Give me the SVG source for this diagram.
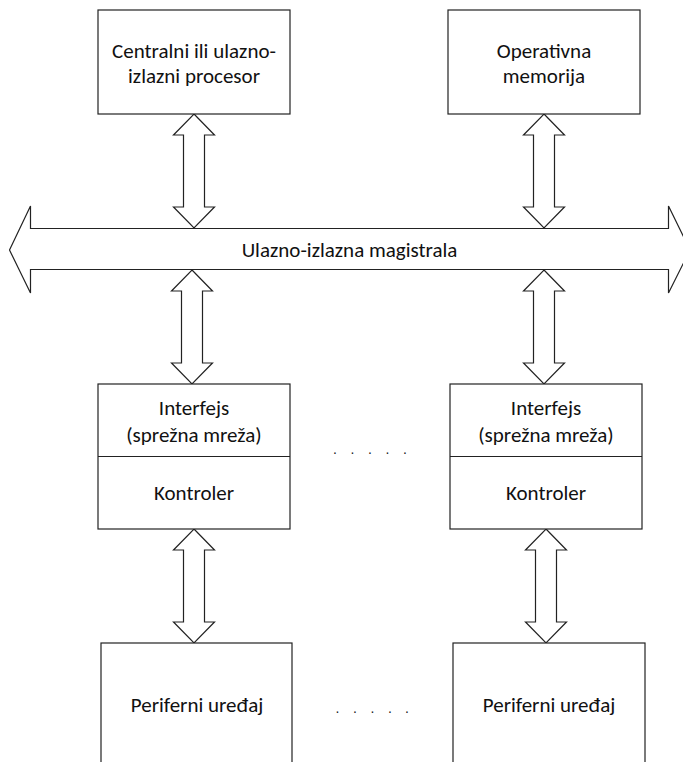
<svg xmlns="http://www.w3.org/2000/svg" width="683" height="762" viewBox="0 0 683 762">
<style>
.box{fill:#fff;stroke:#222;stroke-width:1.2}
.arr{fill:#fff;stroke:#222;stroke-width:1.2;stroke-linejoin:miter}
.t{font-family:Carlito,Lato,"Liberation Sans",sans-serif;font-size:21px;fill:#111;text-anchor:middle}
.dots{font-family:"Liberation Sans",sans-serif;font-size:14px;fill:#222;text-anchor:middle}
</style>
<defs>
<path id="dbl" d="M0,0 L20.5,21 L10.5,21 L10.5,93 L20.5,93 L0,114 L-20.5,93 L-10.5,93 L-10.5,21 L-20.5,21 Z"/>
</defs>
<rect width="683" height="762" fill="#fff"/>
<g id="connectors">
<use href="#dbl" class="arr" x="194" y="114"/>
<use href="#dbl" class="arr" x="544" y="114"/>
<use href="#dbl" class="arr" x="192" y="270"/>
<use href="#dbl" class="arr" x="544" y="270"/>
<use href="#dbl" class="arr" x="194" y="529"/>
<use href="#dbl" class="arr" x="546" y="529"/>
</g>
<g id="bus">
<polygon class="arr" points="9.5,250 30.5,206 30.5,228.5 668.5,228.5 668.5,206 690,250 668.5,293 668.5,269.5 30.5,269.5 30.5,293"/>
<text class="t" x="349.5" y="257">Ulazno-izlazna magistrala</text>
</g>
<g id="cpu">
<rect class="box" x="98" y="10" width="192" height="104"/>
<text class="t" x="194" y="58">Centralni ili ulazno-</text>
<text class="t" x="194" y="83">izlazni procesor</text>
</g>
<g id="mem">
<rect class="box" x="448" y="10" width="192" height="104"/>
<text class="t" x="544" y="58">Operativna</text>
<text class="t" x="544" y="83">memorija</text>
</g>
<g id="iface1">
<rect class="box" x="98" y="384" width="192" height="145"/>
<line class="box" x1="98" y1="456.5" x2="290" y2="456.5"/>
<text class="t" x="194" y="415">Interfejs</text>
<text class="t" x="194" y="442">(sprežna mreža)</text>
<text class="t" x="194" y="500">Kontroler</text>
</g>
<g id="iface2">
<rect class="box" x="450" y="384" width="192" height="145"/>
<line class="box" x1="450" y1="456.5" x2="642" y2="456.5"/>
<text class="t" x="546" y="415">Interfejs</text>
<text class="t" x="546" y="442">(sprežna mreža)</text>
<text class="t" x="546" y="500">Kontroler</text>
</g>
<g id="dots1"><text class="dots" x="335 352.5 370 387.5 405" y="454">.....</text></g>
<g id="per1">
<rect class="box" x="101" y="643" width="191" height="140"/>
<text class="t" x="197" y="712">Periferni uređaj</text>
</g>
<g id="per2">
<rect class="box" x="453" y="643" width="192" height="140"/>
<text class="t" x="549" y="712">Periferni uređaj</text>
</g>
<g id="dots2"><text class="dots" x="337.5 355 372.5 390 407" y="713">.....</text></g>
</svg>
